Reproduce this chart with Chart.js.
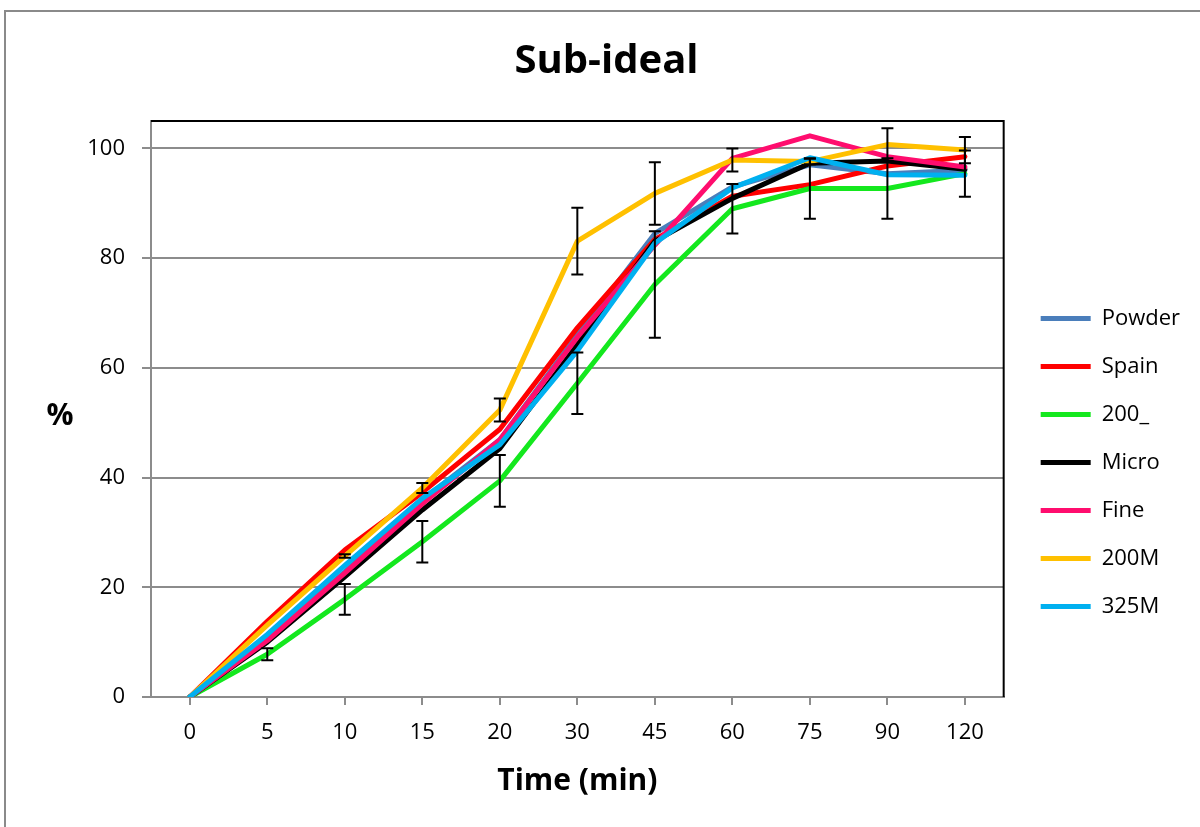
<!DOCTYPE html>
<html>
<head>
<meta charset="utf-8">
<script src="https://cdn.jsdelivr.net/npm/chart.js@4"></script>
<style>
  html, body { margin: 0; padding: 0; background: #fff; overflow: hidden; }
  #wrap { position: relative; width: 1200px; height: 827px; }
  #frame { position: absolute; left: 4px; top: 10px; width: 1300px; height: 900px; border: 2px solid #8a8a8a; box-sizing: border-box; pointer-events: none; }
  canvas { position: absolute; left: 0; top: 0; }
</style>
</head>
<body>
<div id="wrap">
  <canvas id="chart" width="1200" height="827"></canvas>
  <div id="frame"></div>
</div>
<script>
const times = ['0', '5', '10', '15', '20', '30', '45', '60', '75', '90', '120'];

const powder = [0, 10.7, 22.8, 35.9, 46.9, 66.0, 84.5, 93.0, 97.0, 95.4, 96.0];
const spain = [0, 13.8, 26.8, 37.3, 48.8, 67.3, 83.4, 91.3, 93.4, 96.8, 98.5];
const g200 = [0, 7.8, 17.8, 28.3, 39.4, 57.2, 75.2, 89.0, 92.7, 92.7, 95.4];
const micro = [0, 10.0, 21.9, 34.1, 45.3, 64.2, 83.1, 90.9, 97.3, 97.7, 96.2];
const fine = [0, 10.3, 22.6, 35.2, 46.9, 65.6, 82.4, 98.2, 102.3, 98.5, 96.6];
const m200 = [0, 13.1, 25.7, 38.1, 52.3, 83.1, 91.8, 97.9, 97.6, 100.7, 99.7];
const m325 = [0, 11.4, 24.0, 36.2, 46.0, 63.1, 82.7, 92.8, 98.3, 95.2, 95.1];

// standard deviations, only two series carry error bars
const g200Err = [0, 1.1, 2.8, 3.8, 4.7, 5.6, 9.7, 4.5, 5.5, 5.5, 4.2];
const m200Err = [0, 0, 0.3, 0.9, 2.1, 6.1, 5.7, 2.1, 0.5, 3.0, 2.4];

const yTicks = [0, 20, 40, 60, 80, 100];

const FONT = "'Open Sans', sans-serif";
const GRID = '#8c8c8c';

const series = [
  ['Powder', powder, '#4A7EBB'],
  ['Spain', spain, '#FF0000'],
  ['200_', g200, '#14E81E'],
  ['Micro', micro, '#000000'],
  ['Fine', fine, '#FF0D6E'],
  ['200M', m200, '#FFC000'],
  ['325M', m325, '#00B0F0'],
];

const errorSets = [
  { values: g200, errors: g200Err },
  { values: m200, errors: m200Err },
];

const errorBars = {
  id: 'errorBars',
  afterDatasetsDraw(chart) {
    const { ctx, scales: { x, y } } = chart;
    ctx.save();
    ctx.strokeStyle = '#000';
    ctx.lineWidth = 2;
    errorSets.forEach(({ values, errors }) => {
      values.forEach((v, i) => {
        const e = errors[i];
        if (!e) return;
        const px = x.getPixelForValue(i);
        const top = y.getPixelForValue(v + e);
        const bot = y.getPixelForValue(v - e);
        ctx.beginPath();
        ctx.moveTo(px, top); ctx.lineTo(px, bot);
        ctx.moveTo(px - 6, top); ctx.lineTo(px + 6, top);
        ctx.moveTo(px - 6, bot); ctx.lineTo(px + 6, bot);
        ctx.stroke();
      });
    });
    ctx.restore();
  },
};

const frame = {
  id: 'frame',
  afterLayout(chart) {
    // nudge the legend to where Excel put it (box moved whole, it clips to itself)
    const lg = chart.legend;
    lg.left += 11; lg.right += 11;
    lg.top += 49; lg.bottom += 49;
  },
  afterDraw(chart) {
    const { ctx, chartArea: a } = chart;
    ctx.save();
    ctx.strokeStyle = '#000';
    ctx.lineWidth = 2;
    ctx.beginPath();
    ctx.moveTo(a.left, a.top);
    ctx.lineTo(a.right, a.top);
    ctx.lineTo(a.right, a.bottom);
    ctx.stroke();
    ctx.fillStyle = '#000';
    ctx.font = `bold 30px ${FONT}`;
    ctx.textAlign = 'center';
    ctx.textBaseline = 'middle';
    ctx.fillText('%', a.left - 91, (a.top + a.bottom) / 2 + 7);
    ctx.restore();
  },
};

new Chart(document.getElementById('chart'), {
  type: 'line',
  plugins: [errorBars, frame],
  data: {
    labels: times,
    datasets: series.map(([label, data, color], i) => ({
      label,
      data,
      borderColor: color,
      backgroundColor: color,
      borderWidth: 5,
      borderCapStyle: 'round',
      borderJoinStyle: 'round',
      pointRadius: 0,
      tension: 0,
      order: series.length - i,
    })),
  },
  options: {
    responsive: false,
    animation: false,
    layout: {
      padding: { left: 34, right: 21, top: 0, bottom: 0 },
    },
    plugins: {
      title: {
        display: true,
        text: 'Sub-ideal',
        color: '#000',
        font: { family: FONT, size: 40, weight: 'bold' },
        padding: { top: 38, bottom: 35 },
      },
      legend: {
        position: 'right',
        labels: {
          usePointStyle: true,
          pointStyle: 'line',
          pointStyleWidth: 50,
          padding: 26,
          color: '#000',
          font: { family: FONT, size: 22 },
          sort: (a, b) => a.datasetIndex - b.datasetIndex,
        },
      },
      tooltip: { enabled: false },
    },
    scales: {
      x: {
        type: 'category',
        offset: true,
        afterFit: (s) => { s.height = 130; },
        grid: {
          drawOnChartArea: false,
          drawTicks: true,
          tickLength: 8,
          color: GRID,
          lineWidth: 2,
        },
        border: { color: GRID, width: 2 },
        ticks: {
          color: '#000',
          padding: 15,
          font: { family: FONT, size: 22 },
        },
        title: {
          display: true,
          text: 'Time (min)',
          color: '#000',
          font: { family: FONT, size: 30, weight: 'bold' },
          padding: { top: 0, bottom: 28 },
        },
      },
      y: {
        min: 0,
        max: 105,
        afterFit: (s) => { s.width = 117; },
        afterBuildTicks: (s) => {
          s.ticks = yTicks.map((value) => ({ value }));
        },
        grid: {
          color: GRID,
          lineWidth: 2,
          tickLength: 9,
        },
        border: { color: GRID, width: 2 },
        ticks: {
          color: '#000',
          padding: 17,
          font: { family: FONT, size: 22 },
        },
      },
    },
  },
});
</script>
</body>
</html>
